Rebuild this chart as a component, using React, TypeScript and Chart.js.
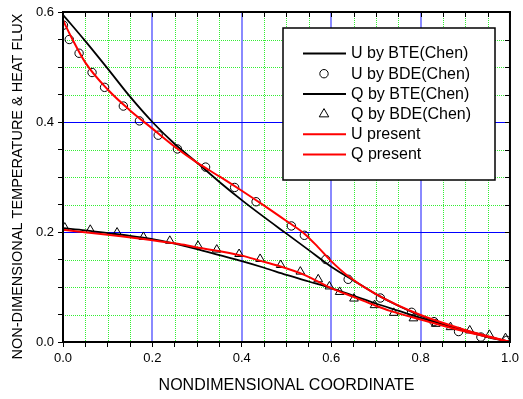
import React, { useEffect, useRef } from 'react';
import { Chart, registerables } from 'chart.js';

Chart.register(...registerables);

// ---- data ----
const uBteX = [0, 0.05, 0.1, 0.15, 0.2, 0.25, 0.3, 0.35, 0.4, 0.45, 0.5, 0.55, 0.6, 0.65, 0.7, 0.75, 0.8, 0.85, 0.9, 0.95, 1.0];
const uBteY = [0.595, 0.547, 0.497, 0.446, 0.4, 0.36, 0.326, 0.291, 0.258, 0.227, 0.197, 0.167, 0.137, 0.112, 0.087, 0.066, 0.048, 0.033, 0.02, 0.009, 0];

const uBdeX = [0.001, 0.014, 0.036, 0.065, 0.093, 0.135, 0.171, 0.213, 0.256, 0.319, 0.384, 0.432, 0.511, 0.54, 0.588, 0.638, 0.71, 0.78, 0.83, 0.885, 0.935, 0.993];
const uBdeY = [0.576, 0.55, 0.525, 0.49, 0.463, 0.429, 0.402, 0.376, 0.351, 0.318, 0.281, 0.255, 0.211, 0.194, 0.15, 0.114, 0.08, 0.054, 0.037, 0.019, 0.009, 0.003];

const qBteX = [0, 0.05, 0.1, 0.15, 0.2, 0.25, 0.3, 0.35, 0.4, 0.45, 0.5, 0.55, 0.6, 0.65, 0.7, 0.75, 0.8, 0.85, 0.9, 0.95, 1.0];
const qBteY = [0.207, 0.203, 0.198, 0.193, 0.187, 0.179, 0.169, 0.158, 0.147, 0.135, 0.122, 0.11, 0.098, 0.084, 0.07, 0.057, 0.044, 0.032, 0.021, 0.01, 0];

const qBdeX = [0.004, 0.061, 0.121, 0.18, 0.239, 0.302, 0.344, 0.394, 0.441, 0.487, 0.531, 0.571, 0.596, 0.619, 0.651, 0.697, 0.74, 0.784, 0.834, 0.867, 0.91, 0.954, 0.99];
const qBdeY = [0.208, 0.204, 0.199, 0.191, 0.184, 0.175, 0.168, 0.16, 0.151, 0.14, 0.128, 0.114, 0.101, 0.091, 0.079, 0.067, 0.053, 0.043, 0.033, 0.027, 0.021, 0.013, 0.007];

const uPresX = [0, 0.02, 0.05, 0.1, 0.15, 0.2, 0.25, 0.3, 0.35, 0.4, 0.45, 0.5, 0.54, 0.57, 0.6, 0.636, 0.7, 0.8, 0.9, 1.0];
const uPresY = [0.585, 0.552, 0.508, 0.459, 0.421, 0.388, 0.355, 0.326, 0.301, 0.275, 0.248, 0.22, 0.197, 0.173, 0.147, 0.121, 0.087, 0.049, 0.022, 0];

const qPresX = [0, 0.1, 0.2, 0.26, 0.3, 0.4, 0.44, 0.48, 0.54, 0.6, 0.65, 0.7, 0.73, 0.8, 0.9, 1.0];
const qPresY = [0.204, 0.195, 0.185, 0.178, 0.172, 0.157, 0.148, 0.139, 0.122, 0.098, 0.082, 0.066, 0.057, 0.041, 0.019, 0];

const seriesLabels = ['U by BTE(Chen)', 'U by BDE(Chen)', 'Q by BTE(Chen)', 'Q by BDE(Chen)', 'U present', 'Q present'];
const xTitle = 'NONDIMENSIONAL COORDINATE';
const yTitle = 'NON-DIMENSIONAL TEMPERATURE & HEAT FLUX';

const FONT = "'Liberation Sans', Arial, sans-serif";

const pts = (xs: number[], ys: number[]) => xs.map((x, i) => ({ x, y: ys[i] }));
const isMajor = (v: number) => Math.abs(v / 0.2 - Math.round(v / 0.2)) < 1e-6;

const decorPlugin = {
  id: 'decor',
  beforeDatasetsDraw(chart: any) {
    const { ctx, chartArea: a, scales } = chart;
    const xs = scales.x;
    const ys = scales.y;
    const top = Math.round(a.top);
    const bottom = Math.round(a.bottom);
    const left = Math.round(a.left);
    const right = Math.round(a.right);
    ctx.save();
    // minor green dotted grid
    ctx.strokeStyle = '#33ee33';
    ctx.lineWidth = 1;
    ctx.setLineDash([1, 1]);
    xs.ticks.forEach((t: any) => {
      if (isMajor(t.value)) return;
      const px = Math.round(xs.getPixelForValue(t.value)) + 0.5;
      ctx.beginPath();
      ctx.moveTo(px, top);
      ctx.lineTo(px, bottom);
      ctx.stroke();
    });
    ys.ticks.forEach((t: any) => {
      if (isMajor(t.value)) return;
      const py = Math.round(ys.getPixelForValue(t.value)) + 0.5;
      ctx.beginPath();
      ctx.moveTo(left, py);
      ctx.lineTo(right, py);
      ctx.stroke();
    });
    ctx.setLineDash([]);
    // major vertical (light blue)
    ctx.strokeStyle = '#8a8aff';
    ctx.lineWidth = 2;
    ctx.beginPath();
    xs.ticks.forEach((t: any) => {
      if (!isMajor(t.value) || t.value <= 0 || t.value >= 1) return;
      const px = Math.round(xs.getPixelForValue(t.value));
      ctx.moveTo(px, top);
      ctx.lineTo(px, bottom);
    });
    ctx.stroke();
    // major horizontal (blue)
    ctx.strokeStyle = '#0000ff';
    ctx.lineWidth = 1;
    ctx.beginPath();
    ys.ticks.forEach((t: any) => {
      if (!isMajor(t.value) || t.value <= 0 || t.value >= 0.6) return;
      const py = Math.round(ys.getPixelForValue(t.value)) + 0.5;
      ctx.moveTo(left, py);
      ctx.lineTo(right, py);
    });
    ctx.stroke();
    ctx.restore();
  },
  afterDatasetsDraw(chart: any) {
    const { ctx, chartArea: a, scales } = chart;
    const xs = scales.x;
    const ys = scales.y;
    ctx.save();
    // frame
    ctx.strokeStyle = '#000';
    ctx.lineWidth = 2;
    ctx.strokeRect(a.left, a.top, a.right - a.left, a.bottom - a.top);
    // inward ticks on top and right
    ctx.lineWidth = 1;
    ctx.beginPath();
    xs.ticks.forEach((t: any) => {
      const px = Math.round(xs.getPixelForValue(t.value)) + 0.5;
      ctx.moveTo(px, a.top);
      ctx.lineTo(px, a.top + 5);
    });
    ys.ticks.forEach((t: any) => {
      const py = Math.round(ys.getPixelForValue(t.value)) + 0.5;
      ctx.moveTo(a.right, py);
      ctx.lineTo(a.right - 5, py);
    });
    ctx.stroke();

    // legend box
    const bx = 283, by = 28, bw = 212, bh = 152;
    ctx.fillStyle = '#fff';
    ctx.fillRect(bx, by, bw, bh);
    ctx.strokeStyle = '#000';
    ctx.lineWidth = 1.5;
    ctx.strokeRect(bx, by, bw, bh);
    const dsets = chart.data.datasets;
    dsets.forEach((ds: any, i: number) => {
      const cy = 53.5 + i * 20.2;
      if (ds.showLine === false) {
        ctx.lineWidth = 1;
        ctx.strokeStyle = '#000';
        ctx.beginPath();
        if (ds.pointStyle === 'triangle') {
          const r = 5.5;
          ctx.moveTo(324, cy - r);
          ctx.lineTo(324 + r * 0.866, cy + r * 0.5);
          ctx.lineTo(324 - r * 0.866, cy + r * 0.5);
          ctx.closePath();
        } else {
          ctx.arc(324, cy, 4.2, 0, Math.PI * 2);
        }
        ctx.stroke();
      } else {
        ctx.strokeStyle = ds.borderColor;
        ctx.lineWidth = 2;
        ctx.beginPath();
        ctx.moveTo(303, cy);
        ctx.lineTo(346, cy);
        ctx.stroke();
      }
      ctx.fillStyle = '#000';
      ctx.font = `16px ${FONT}`;
      ctx.textAlign = 'left';
      ctx.textBaseline = 'middle';
      ctx.fillText(ds.label, 351, cy + 0.5);
    });
    ctx.restore();
  },
  afterDraw(chart: any) {
    const { ctx, chartArea: a } = chart;
    ctx.save();
    ctx.fillStyle = '#000';
    ctx.textAlign = 'center';
    ctx.textBaseline = 'middle';
    ctx.font = `16px ${FONT}`;
    ctx.fillText(xTitle, (a.left + a.right) / 2, 385.5);
    ctx.translate(18, 186.5);
    ctx.rotate(-Math.PI / 2);
    ctx.font = `14.5px ${FONT}`;
    ctx.fillText(yTitle, 0, 0);
    ctx.restore();
  },
};

export default function App() {
  const ref = useRef<HTMLCanvasElement | null>(null);
  useEffect(() => {
    if (!ref.current) return;
    const chart = new Chart(ref.current, {
      type: 'scatter',
      data: {
        datasets: [
          { label: seriesLabels[0], data: pts(uBteX, uBteY), showLine: true, borderColor: '#000', borderWidth: 1.8, pointRadius: 0, cubicInterpolationMode: 'monotone', order: 2 } as any,
          { label: seriesLabels[1], data: pts(uBdeX, uBdeY), showLine: false, pointStyle: 'circle', pointRadius: 4.2, pointBorderColor: '#000', pointBackgroundColor: 'rgba(0,0,0,0)', pointBorderWidth: 1, borderColor: '#000', order: 1 } as any,
          { label: seriesLabels[2], data: pts(qBteX, qBteY), showLine: true, borderColor: '#000', borderWidth: 1.8, pointRadius: 0, cubicInterpolationMode: 'monotone', order: 2 } as any,
          { label: seriesLabels[3], data: pts(qBdeX, qBdeY), showLine: false, pointStyle: 'triangle', pointRadius: 5, pointBorderColor: '#000', pointBackgroundColor: 'rgba(0,0,0,0)', pointBorderWidth: 1, borderColor: '#000', order: 1 } as any,
          { label: seriesLabels[4], data: pts(uPresX, uPresY), showLine: true, borderColor: '#ff0000', borderWidth: 2, pointRadius: 0, cubicInterpolationMode: 'monotone', order: 0 } as any,
          { label: seriesLabels[5], data: pts(qPresX, qPresY), showLine: true, borderColor: '#ff0000', borderWidth: 2, pointRadius: 0, cubicInterpolationMode: 'monotone', order: 0 } as any,
        ],
      },
      options: {
        animation: false,
        responsive: false,
        devicePixelRatio: 1,
        layout: { padding: { top: 12, right: 9.5, left: 0, bottom: 0 } },
        plugins: { legend: { display: false }, tooltip: { enabled: false } },
        scales: {
          x: {
            type: 'linear',
            min: 0,
            max: 1,
            afterFit: (s: any) => { s.height = 57; },
            ticks: {
              stepSize: 0.05,
              autoSkip: false,
              maxRotation: 0,
              padding: 4,
              color: '#000',
              font: { family: FONT, size: 13 },
              callback: (v: any) => (isMajor(Number(v)) ? Number(v).toFixed(1) : ''),
            },
            grid: {
              drawOnChartArea: false,
              drawTicks: true,
              tickLength: 5,
              tickColor: '#000',
              tickWidth: 1,
            },
            border: { display: false },
          },
          y: {
            type: 'linear',
            min: 0,
            max: 0.6,
            afterFit: (s: any) => { s.width = 63; },
            ticks: {
              stepSize: 0.05,
              autoSkip: false,
              padding: 4,
              color: '#000',
              font: { family: FONT, size: 13 },
              callback: (v: any) => (isMajor(Number(v)) ? Number(v).toFixed(1) : ''),
            },
            grid: {
              drawOnChartArea: false,
              drawTicks: true,
              tickLength: 5,
              tickColor: '#000',
              tickWidth: 1,
            },
            border: { display: false },
          },
        },
      } as any,
      plugins: [decorPlugin],
    });
    return () => chart.destroy();
  }, []);
  return (
    <div style={{ position: 'absolute', left: 0, top: 0, width: 523, height: 399, background: '#fff' }}>
      <canvas ref={ref} width={523} height={399} style={{ display: 'block' }} />
    </div>
  );
}
